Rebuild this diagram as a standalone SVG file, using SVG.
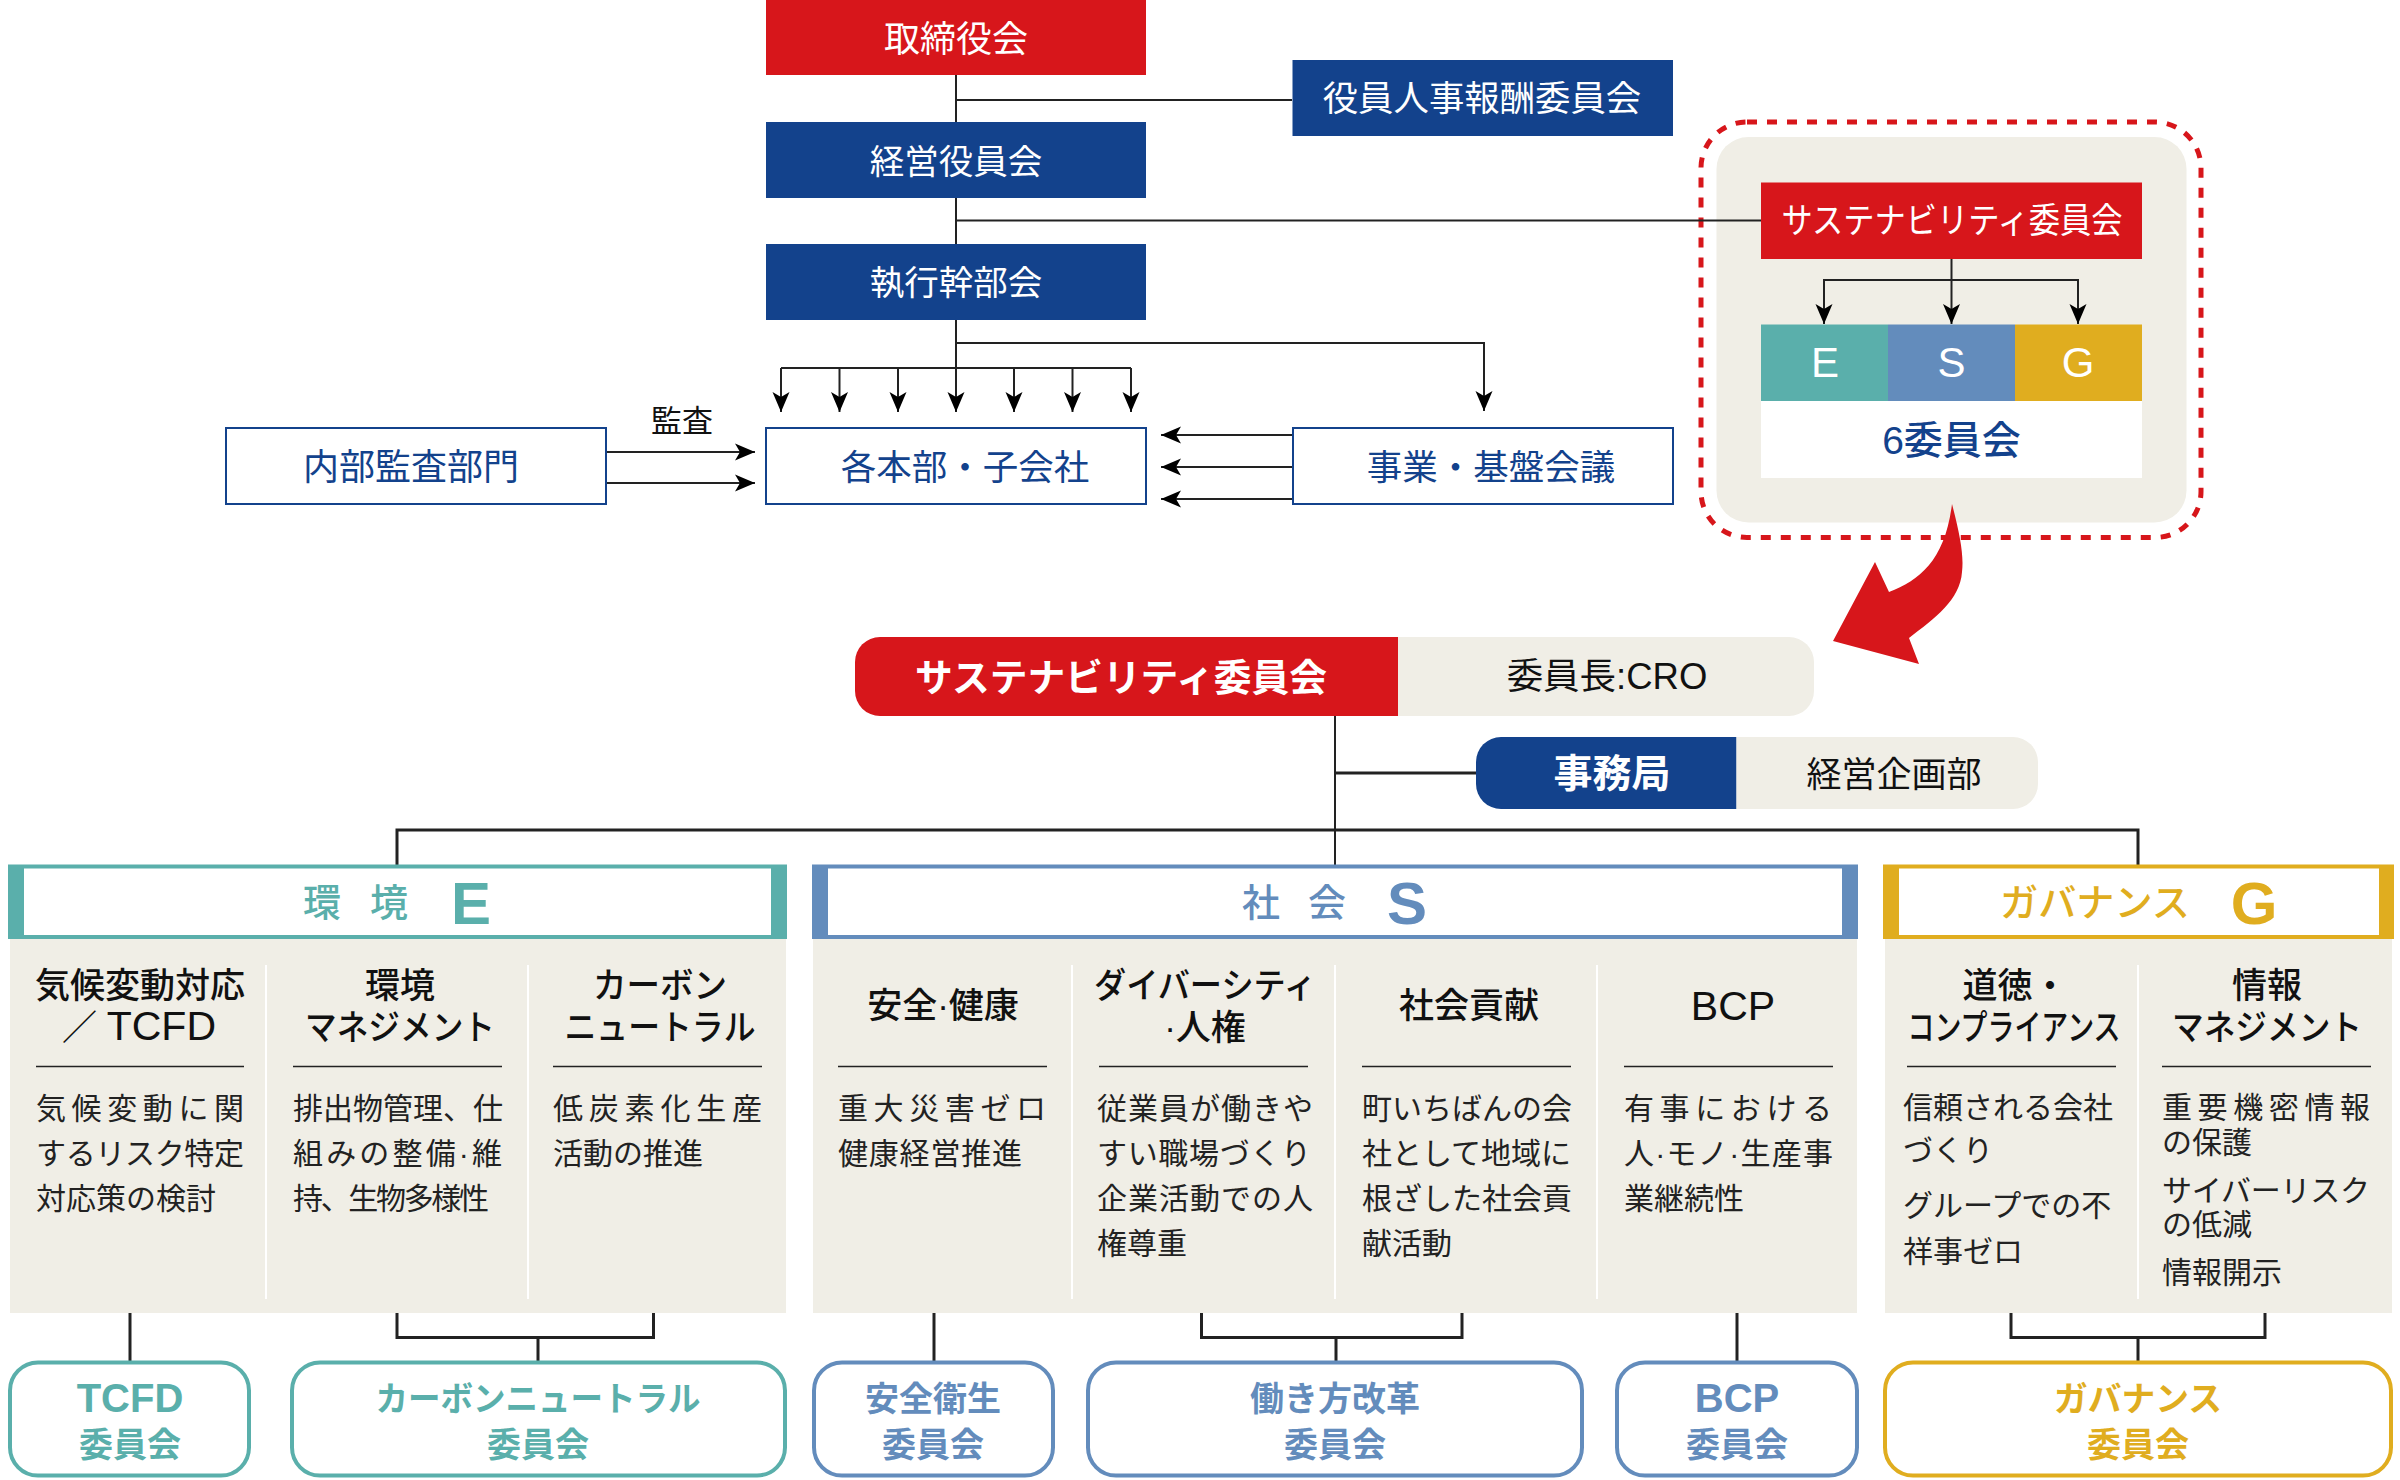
<svg xmlns="http://www.w3.org/2000/svg" width="2400" height="1480" viewBox="0 0 2400 1480">
<style>
text{font-family:"Liberation Sans","Noto Sans CJK JP",sans-serif}
.c{text-anchor:middle}
.w{fill:#fff}
.n{fill:#13428c}
.k{fill:#111}
.t35{font-size:35px}
.hd{font-size:35px;font-weight:500;fill:#111;text-anchor:middle}
.hl{font-size:41px;font-weight:400}
.bd{font-size:30px;fill:#222}
.cm{font-size:34px;font-weight:700;text-anchor:middle}
.cl{font-size:40px;font-weight:700;text-anchor:middle}
.sec{font-size:38px;font-weight:500;text-anchor:middle}
.big{font-size:60px;font-weight:700;text-anchor:middle}
.navy{fill:#13428c}.red{fill:#d7161b}.beige{fill:#f0eee6}
.box{fill:#fff;stroke:#13428c;stroke-width:2}
.teal{fill:#5aafab}.blue{fill:#638cbc}.gold{fill:#e0ad1f}
.st{stroke:#5aafab}.sb{stroke:#638cbc}.sg{stroke:#e0ad1f}
.cb{fill:#fff;stroke-width:4}
.conn path{fill:none;stroke:#222;stroke-width:2}
.thick path{stroke-width:3}
.rule{stroke:#222;stroke-width:1.5}
.div{stroke:#fff;stroke-width:2}
</style>
<defs>
<marker id="ah" markerUnits="userSpaceOnUse" markerWidth="21" markerHeight="18" viewBox="0 0 21 18" refX="20" refY="9" orient="auto"><path d="M0,0.5 L20,9 L0,17.5 L5,9 Z" fill="#000"/></marker>
</defs>

<g id="sustainability-frame">
<rect class="beige" x="1716.5" y="137" width="470" height="385.500" rx="32"/>
<rect x="1701" y="122" width="500" height="415.500" rx="46" fill="none" stroke="#d7161b" stroke-width="5" stroke-dasharray="10 10"/>
</g>

<g id="connectors" class="conn">
<path d="M956,75V368M956,100H1292M956,220.500H1761M956,343H1484V411" marker-end="url(#ah)"/>
<path d="M781,368H1131" />
<path d="M781,368V412" marker-end="url(#ah)"/>
<path d="M839.500,368V412" marker-end="url(#ah)"/>
<path d="M898,368V412" marker-end="url(#ah)"/>
<path d="M956,368V412" marker-end="url(#ah)"/>
<path d="M1014,368V412" marker-end="url(#ah)"/>
<path d="M1072.500,368V412" marker-end="url(#ah)"/>
<path d="M1131,368V412" marker-end="url(#ah)"/>
<path d="M606,452H755" marker-end="url(#ah)"/>
<path d="M606,483H755" marker-end="url(#ah)"/>
<path d="M1292,435H1161" marker-end="url(#ah)"/>
<path d="M1292,467H1161" marker-end="url(#ah)"/>
<path d="M1292,499H1161" marker-end="url(#ah)"/>
<path d="M1951.500,259V324" marker-end="url(#ah)"/>
<path d="M1951.500,280H1824V324" marker-end="url(#ah)"/>
<path d="M1951.500,280H2078V324" marker-end="url(#ah)"/>
<path d="M1335,716V865"/>
<g class="thick">
<path d="M1335,773H1476"/>
<path d="M397,865V830H2138V865"/>
<path d="M130,1313V1362"/>
<path d="M397,1313V1337.500H653.500V1313M538,1337.500V1362"/>
<path d="M934,1313V1362"/>
<path d="M1201.500,1313V1337.500H1462V1313M1336,1337.500V1362"/>
<path d="M1737,1313V1362"/>
<path d="M2011,1313V1337.500H2265V1313M2138,1337.500V1362"/>
</g>
</g>

<g id="board"><rect class="red" x="766" y="0" width="380" height="75"/><text class="c w" x="956" y="52" font-size="36">取締役会</text></g>
<g id="exec-officers"><rect class="navy" x="766" y="122" width="380" height="76"/><text class="c w" x="956" y="173.500" font-size="34.500">経営役員会</text></g>
<g id="exec-dept"><rect class="navy" x="766" y="244" width="380" height="76"/><text class="c w" x="956" y="295" font-size="34.500">執行幹部会</text></g>
<g id="remuneration"><rect class="navy" x="1292.500" y="60" width="380.500" height="76"/><text class="c w" x="1482" y="110.500" font-size="35.400">役員人事報酬委員会</text></g>
<g id="audit"><rect class="box" x="226" y="428" width="380" height="76"/><text class="c n" x="411" y="480" font-size="36">内部監査部門</text></g>
<text id="audit-label" class="c k" x="682" y="432" font-size="31">監査</text>
<g id="divisions"><rect class="box" x="766" y="428" width="380" height="76"/><text class="c n" x="965" y="480" font-size="35.500">各本部・子会社</text></g>
<g id="business"><rect class="box" x="1293" y="428" width="380" height="76"/><text class="c n" x="1491" y="480" font-size="35.500">事業・基盤会議</text></g>
<g id="sus-top"><rect class="red" x="1761" y="182.500" width="381" height="76.500"/><text class="c w t35" x="1952" y="233" textLength="341" lengthAdjust="spacingAndGlyphs">サステナビリティ委員会</text></g>
<g id="esg">
<rect class="teal" x="1761" y="324.500" width="127" height="76.500"/><rect class="blue" x="1888" y="324.500" width="127" height="76.500"/><rect class="gold" x="2015" y="324.500" width="127" height="76.500"/>
<rect fill="#fff" x="1761" y="401" width="381" height="77"/>
<text class="c w" x="1825" y="377" font-size="42">E</text><text class="c w" x="1951.500" y="377" font-size="42">S</text><text class="c w" x="2078" y="377" font-size="42">G</text>
<text class="c n" x="1951.500" y="454" font-size="39" font-weight="500">6委員会</text>
</g>
<path id="big-arrow" class="red" d="M1952,504C1960,535 1964,555 1962,572C1960,600 1935,618 1909,638L1919,664L1833,641L1875,562L1889,592C1920,580 1945,560 1952,504Z"/>

<g id="sus-main">
<path class="red" d="M1398,637H880a25,25 0 0 0 -25,25V691a25,25 0 0 0 25,25H1398Z"/>
<path class="beige" d="M1398,637H1789a25,25 0 0 1 25,25V691a25,25 0 0 1 -25,25H1398Z"/>
<text class="c w" x="1121" y="691" font-size="38" font-weight="700" textLength="412" lengthAdjust="spacingAndGlyphs">サステナビリティ委員会</text>
<text class="c k" x="1607" y="689" font-size="36.500">委員長:CRO</text>
</g>
<g id="secretariat">
<path class="navy" d="M1736.500,737H1501a25,25 0 0 0 -25,25V784a25,25 0 0 0 25,25H1736.500Z"/>
<path class="beige" d="M1736.500,737H2013a25,25 0 0 1 25,25V784a25,25 0 0 1 -25,25H1736.500Z"/>
<text class="c w" x="1612" y="787" font-size="39" font-weight="700">事務局</text>
<text class="c k t35" x="1894" y="787">経営企画部</text>
</g>

<g id="section-e">
<rect class="beige" x="10" y="939" width="776" height="374"/>
<rect class="teal" x="8" y="864.500" width="779" height="74.500"/><rect fill="#fff" x="24" y="868.500" width="747" height="66.500"/>
<text class="sec teal" x="322" y="916">環</text><text class="sec teal" x="389" y="916">境</text><text class="big teal" x="471" y="924">E</text>
<path class="div" d="M266,965V1299M528,965V1299"/>
<path class="rule" d="M36,1066.500H244M293,1066.500H502M553,1066.500H762"/>
<text class="hd" x="140" y="998">気候変動対応</text><text class="hd" x="139" y="1040">／ <tspan class="hl">TCFD</tspan></text>
<text class="hd" x="400" y="998">環境</text><text class="hd" x="400" y="1040" textLength="190" lengthAdjust="spacingAndGlyphs">マネジメント</text>
<text class="hd" x="660" y="998" textLength="134" lengthAdjust="spacingAndGlyphs">カーボン</text><text class="hd" x="660" y="1040" textLength="191" lengthAdjust="spacingAndGlyphs">ニュートラル</text>
<text class="bd" x="36" y="1119" textLength="208">気候変動に関</text><text class="bd" x="36" y="1164" textLength="208">するリスク特定</text><text class="bd" x="36" y="1209">対応策の検討</text>
<text class="bd" x="293" y="1119">排出物管理、仕</text><text class="bd" x="293" y="1164" textLength="209">組みの整備·維</text><text class="bd" x="293" y="1209" textLength="196">持、生物多様性</text>
<text class="bd" x="553" y="1119" textLength="209">低炭素化生産</text><text class="bd" x="553" y="1164">活動の推進</text>
</g>

<g id="section-s">
<rect class="beige" x="813" y="939" width="1044" height="374"/>
<rect class="blue" x="812" y="864.500" width="1046" height="74.500"/><rect fill="#fff" x="828" y="868.500" width="1014" height="66.500"/>
<text class="sec blue" x="1261" y="916">社</text><text class="sec blue" x="1327" y="916">会</text><text class="big blue" x="1407" y="924">S</text>
<path class="div" d="M1072,965V1299M1335,965V1299M1597,965V1299"/>
<path class="rule" d="M838,1066.500H1047M1099,1066.500H1308M1362,1066.500H1571M1624,1066.500H1833"/>
<text class="hd" x="943" y="1018">安全·健康</text>
<text class="hd" x="1205" y="998" textLength="222" lengthAdjust="spacingAndGlyphs">ダイバーシティ</text><text class="hd" x="1205" y="1040">·人権</text>
<text class="hd" x="1469" y="1018">社会貢献</text><text class="hd hl" x="1733" y="1020">BCP</text>
<text class="bd" x="838" y="1119" textLength="208">重大災害ゼロ</text><text class="bd" x="838" y="1164" textLength="184">健康経営推進</text>
<text class="bd" x="1097" y="1119" textLength="216">従業員が働きや</text><text class="bd" x="1097" y="1164" textLength="214">すい職場づくり</text><text class="bd" x="1097" y="1209" textLength="216">企業活動での人</text><text class="bd" x="1097" y="1254">権尊重</text>
<text class="bd" x="1362" y="1119">町いちばんの会</text><text class="bd" x="1362" y="1164">社として地域に</text><text class="bd" x="1362" y="1209">根ざした社会貢</text><text class="bd" x="1362" y="1254">献活動</text>
<text class="bd" x="1624" y="1119" textLength="208">有事における</text><text class="bd" x="1624" y="1164" textLength="209">人·モノ·生産事</text><text class="bd" x="1624" y="1209">業継続性</text>
</g>

<g id="section-g">
<rect class="beige" x="1885" y="939" width="507" height="374"/>
<rect class="gold" x="1883" y="864.500" width="511" height="74.500"/><rect fill="#fff" x="1899" y="868.500" width="480" height="66.500"/>
<text class="sec gold" x="2095" y="916" textLength="190" lengthAdjust="spacingAndGlyphs">ガバナンス</text><text class="big gold" x="2254" y="924">G</text>
<path class="div" d="M2138,965V1299"/>
<path class="rule" d="M1907,1066.500H2116M2162,1066.500H2371"/>
<text class="hd" x="2015" y="998">道徳・</text><text class="hd" x="2014" y="1040" textLength="213" lengthAdjust="spacingAndGlyphs">コンプライアンス</text>
<text class="hd" x="2267" y="998">情報</text><text class="hd" x="2267" y="1040" textLength="190" lengthAdjust="spacingAndGlyphs">マネジメント</text>
<text class="bd" x="1903" y="1118">信頼される会社</text><text class="bd" x="1903" y="1161">づくり</text><text class="bd" x="1903" y="1216">グループでの不</text><text class="bd" x="1903" y="1262">祥事ゼロ</text>
<text class="bd" x="2162" y="1118" textLength="208">重要機密情報</text><text class="bd" x="2162" y="1153">の保護</text><text class="bd" x="2162" y="1201" textLength="208">サイバーリスク</text><text class="bd" x="2162" y="1235">の低減</text><text class="bd" x="2162" y="1283">情報開示</text>
</g>

<g id="cm-tcfd"><rect class="cb st" x="10" y="1362.500" width="239" height="113" rx="28"/><text class="cl teal" x="130" y="1412">TCFD</text><text class="cm teal" x="130" y="1457">委員会</text></g>
<g id="cm-cn"><rect class="cb st" x="292" y="1362.500" width="493" height="113" rx="28"/><text class="cm teal" x="538" y="1411" textLength="325" lengthAdjust="spacingAndGlyphs">カーボンニュートラル</text><text class="cm teal" x="538" y="1457">委員会</text></g>
<g id="cm-safety"><rect class="cb sb" x="814" y="1362.500" width="239" height="113" rx="28"/><text class="cm blue" x="933" y="1411">安全衛生</text><text class="cm blue" x="933" y="1457">委員会</text></g>
<g id="cm-work"><rect class="cb sb" x="1088" y="1362.500" width="494" height="113" rx="28"/><text class="cm blue" x="1335" y="1411">働き方改革</text><text class="cm blue" x="1335" y="1457">委員会</text></g>
<g id="cm-bcp"><rect class="cb sb" x="1617" y="1362.500" width="240" height="113" rx="28"/><text class="cl blue" x="1737" y="1412">BCP</text><text class="cm blue" x="1737" y="1457">委員会</text></g>
<g id="cm-gov"><rect class="cb sg" x="1885" y="1362.500" width="506" height="113" rx="28"/><text class="cm gold" x="2138" y="1411" textLength="168" lengthAdjust="spacingAndGlyphs">ガバナンス</text><text class="cm gold" x="2138" y="1457">委員会</text></g>
</svg>
